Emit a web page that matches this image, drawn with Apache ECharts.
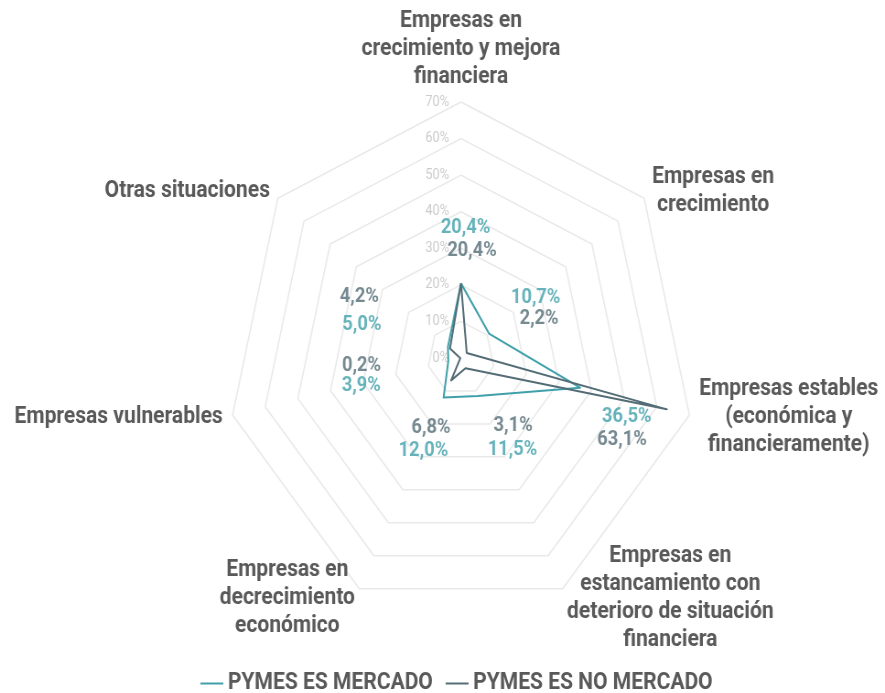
<!DOCTYPE html>
<html>
<head>
<meta charset="utf-8">
<script src="https://cdn.jsdelivr.net/npm/echarts@6/dist/echarts.min.js"></script>
<style>
  html, body { margin: 0; padding: 0; background: #ffffff; overflow: hidden; }
  #wrap { width: 885px; height: 693px; overflow: hidden; position: relative; }
  #chart { width: 967px; height: 693px; transform: scaleX(0.9152); transform-origin: 0 0; }
</style>
</head>
<body>
<div id="wrap"><div id="chart"></div></div>
<script>
// ---- data (clockwise from the top) ----
const categories = [
  'Empresas en\ncrecimiento y mejora\nfinanciera',
  'Empresas en\ncrecimiento',
  'Empresas estables\n(económica y\nfinancieramente)',
  'Empresas en\nestancamiento con\ndeterioro de situación\nfinanciera',
  'Empresas en\ndecrecimiento\neconómico',
  'Empresas vulnerables',
  'Otras situaciones'
];
const seriesNames = ['PYMES ES MERCADO', 'PYMES ES NO MERCADO'];
const mercado = [20.4, 10.7, 36.5, 11.5, 12.0, 3.9, 5.0];
const noMercado = [20.4, 2.2, 63.1, 3.1, 6.8, 0.2, 4.2];
const axisMin = 0, axisMax = 70, axisStep = 10;

// ---- label placement (styles, not data) ----
const mercadoLabelOffsets = [[5, -55], [51, -36], [51, 29], [38, 54], [-22, 53], [-95, 25], [-94, -22]];
const noMercadoLabelOffsets = [[12, -32], [79, -34], [-49, 31], [52, 58], [-22, 48], [-108, 8], [-99, -51]];

const colMercado = '#40a0aa';
const colNoMercado = '#536c75';
const textGray = '#595959';
const center = [503.7, 358];
const radius = 256;

// ECharts radar runs counter-clockwise: reorder so the picture runs clockwise
const radarOrder = categories.map((_, i) => (categories.length - i) % categories.length);
const reorder = arr => radarOrder.map(i => arr[i]);

const fmt = v => v.toFixed(1).replace('.', ',') + '%';

function labelSeries(name, values, offsets, color) {
  return {
    type: 'scatter',
    name: name + ' (etiquetas)',
    coordinateSystem: 'polar',
    symbolSize: 1,
    itemStyle: { color: 'rgba(0,0,0,0)' },
    silent: true,
    z: 5,
    data: values.map((v, i) => ({
      value: [v, i],
      label: { offset: offsets[i] }
    })),
    label: {
      show: true,
      position: 'inside',
      formatter: p => fmt(p.value[0]),
      fontFamily: 'Roboto',
      fontWeight: 'bold',
      fontSize: 20,
      color: color
    }
  };
}

const chart = echarts.init(document.getElementById('chart'), null, { renderer: 'canvas' });
chart.setOption({
  backgroundColor: '#ffffff',
  animation: false,
  textStyle: { fontFamily: 'Roboto' },
  legend: {
    data: seriesNames,
    left: 214,
    top: 667,
    icon: 'rect',
    itemWidth: 25,
    itemHeight: 2,
    itemGap: 14,
    textStyle: { fontFamily: 'Roboto', fontWeight: 'bold', fontSize: 23, color: textGray }
  },
  radar: {
    center: center,
    radius: radius,
    startAngle: 90,
    shape: 'polygon',
    splitNumber: (axisMax - axisMin) / axisStep,
    axisNameGap: 11,
    indicator: reorder(categories).map(c => ({ name: c, min: axisMin, max: axisMax })),
    axisName: {
      formatter: name => name.split('\n').map(l => '{c|' + l + '}').join('\n'),
      rich: {
        c: { align: 'center', fontFamily: 'Roboto', fontWeight: 'bold', fontSize: 23, lineHeight: 28, color: textGray }
      }
    },
    axisLine: { show: false },
    axisTick: { show: false },
    axisLabel: { show: false },
    splitLine: { lineStyle: { color: '#e9e9e9', width: 1.5 } },
    splitArea: { show: false }
  },
  polar: { center: center, radius: radius },
  angleAxis: {
    type: 'category',
    data: categories,
    startAngle: 90,
    clockwise: true,
    boundaryGap: false,
    show: false
  },
  radiusAxis: {
    type: 'value',
    min: axisMin,
    max: axisMax,
    interval: axisStep,
    axisLine: { show: false },
    axisTick: { show: false },
    splitLine: { show: false },
    axisLabel: {
      show: true,
      margin: 13,
      formatter: '{value}%',
      fontFamily: 'Roboto',
      fontSize: 14,
      color: '#cccccc'
    },
    z: 1
  },
  series: [
    {
      type: 'radar',
      symbol: 'none',
      z: 3,
      data: [
        { name: seriesNames[0], value: reorder(mercado), lineStyle: { color: colMercado, width: 2 }, itemStyle: { color: colMercado } },
        { name: seriesNames[1], value: reorder(noMercado), lineStyle: { color: colNoMercado, width: 2 }, itemStyle: { color: colNoMercado } }
      ]
    },
    labelSeries(seriesNames[0], mercado, mercadoLabelOffsets, colMercado),
    labelSeries(seriesNames[1], noMercado, noMercadoLabelOffsets, colNoMercado)
  ]
});
</script>
</body>
</html>
